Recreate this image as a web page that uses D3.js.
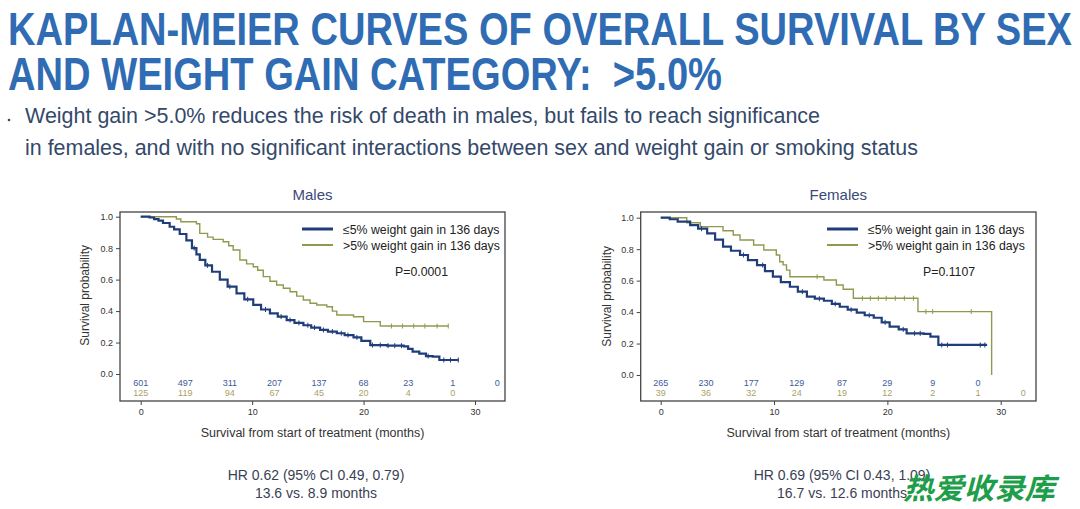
<!DOCTYPE html>
<html><head><meta charset="utf-8">
<script src="https://cdn.jsdelivr.net/npm/d3@7"></script>
<style>
html,body{margin:0;padding:0;background:#fff;}
svg{display:block;font-family:"Liberation Sans",Arial,sans-serif;}
</style></head>
<body><svg id="c" width="1080" height="509"></svg>
<script>
// ---------- data ----------
const riskTimes = [0,4,8,12,16,20,24,28,32];
const maleRiskLow = [601,497,311,207,137,68,23,1,0];
const maleRiskHigh = [125,119,94,67,45,20,4,0];
const femaleRiskLow = [265,230,177,129,87,29,9,0];
const femaleRiskHigh = [39,36,32,24,19,12,2,1,0];

const maleLow = [[0,1],[0.8,0.995],[1.2,0.985],[1.6,0.975],[2.0,0.96],[2.6,0.936],[3.0,0.92],[3.5,0.89],[4.1,0.85],[4.6,0.80],[5.0,0.76],[5.3,0.725],[5.8,0.69],[6.4,0.65],[7.1,0.60],[7.8,0.555],[8.6,0.513],[9.3,0.475],[10.1,0.44],[10.8,0.41],[11.6,0.386],[12.3,0.365],[13.1,0.343],[13.8,0.325],[14.6,0.31],[15.3,0.295],[16.1,0.28],[16.8,0.27],[17.6,0.259],[18.3,0.247],[19.1,0.233],[19.8,0.21],[20.6,0.184],[22.1,0.18],[23.6,0.176],[24.0,0.16],[24.4,0.142],[25.0,0.13],[25.6,0.114],[26.2,0.11],[26.8,0.089],[28.5,0.089]];
const maleHigh = [[0,1],[3.2,0.985],[3.6,0.968],[5.0,0.955],[5.3,0.894],[6.0,0.87],[6.5,0.856],[7.4,0.841],[7.9,0.815],[8.3,0.788],[8.9,0.725],[9.5,0.70],[10.1,0.682],[10.5,0.66],[11.0,0.619],[11.6,0.59],[12.2,0.566],[12.8,0.545],[13.4,0.523],[14.0,0.495],[14.6,0.47],[15.2,0.45],[15.8,0.439],[16.7,0.428],[17.2,0.40],[17.6,0.375],[19.1,0.364],[20.0,0.333],[21.5,0.305],[27.6,0.305]];
const femaleLow = [[0,1],[0.8,0.99],[1.5,0.975],[2.6,0.953],[3.3,0.93],[4.1,0.90],[4.8,0.86],[5.5,0.816],[6.2,0.79],[7.0,0.763],[7.7,0.73],[8.5,0.699],[9.2,0.66],[9.9,0.625],[10.6,0.59],[11.4,0.561],[12.1,0.53],[12.9,0.498],[13.6,0.485],[14.4,0.472],[15.1,0.452],[15.8,0.434],[16.5,0.415],[17.3,0.396],[18.0,0.38],[18.8,0.364],[19.5,0.335],[20.2,0.307],[21.0,0.29],[21.7,0.265],[23.2,0.261],[23.8,0.244],[24.5,0.191],[28.8,0.191]];
const femaleHigh = [[0,1],[2.3,0.968],[3.5,0.943],[5.5,0.917],[6.4,0.89],[7.0,0.858],[8.2,0.826],[9.1,0.795],[10.2,0.763],[10.5,0.72],[10.8,0.70],[11.1,0.667],[11.4,0.625],[14.4,0.604],[15.5,0.572],[16.1,0.545],[17.0,0.488],[22.7,0.403],[29.2,0.403],[29.2,0]];

const maleLowCens = [4.8,6.0,8.0,9.6,11.2,12.6,13.4,14.2,15.0,15.6,16.4,17.2,18.0,18.6,19.4,20.8,21.5,22.2,22.8,23.4,25.8,27.2,27.8,28.5];
const maleHighCens = [22.5,23.5,24.5,25.5,26.6,27.6];
const femaleLowCens = [3.6,7.3,9.0,12.5,14.0,15.4,16.8,18.4,19.8,21.4,22.4,22.9,24.8,25.3,28.2,28.6];
const femaleHighCens = [13.8,17.8,18.5,19.2,19.9,20.7,21.5,22.3,23.4,24.0,27.4];

const xTicks = [0,10,20,30];
const yTicks = [0,0.2,0.4,0.6,0.8,1.0];
const legendLabels = ["\u22645% weight gain in 136 days", ">5% weight gain in 136 days"];

// ---------- drawing ----------
const svg = d3.select("#c");
const TITLE = "#2f6cb3", SUB = "#34496a";
const BLUE = "#1f3d78", GREEN = "#8f9a4e";
const BLUE_T = "#3d5a99", GREEN_T = "#a8a265";

svg.append("text").attr("x",8).attr("y",45).attr("font-size",46).attr("font-weight","bold")
  .attr("font-family","'Liberation Sans Narrow','Liberation Sans',Arial,sans-serif").attr("fill",TITLE)
  .attr("textLength",1064).attr("lengthAdjust","spacingAndGlyphs")
  .text("KAPLAN-MEIER CURVES OF OVERALL SURVIVAL BY SEX");
svg.append("text").attr("x",8).attr("y",90).attr("font-size",46).attr("font-weight","bold")
  .attr("font-family","'Liberation Sans Narrow','Liberation Sans',Arial,sans-serif").attr("fill",TITLE)
  .attr("textLength",714).attr("lengthAdjust","spacingAndGlyphs")
  .attr("xml:space","preserve").style("white-space","pre")
  .text("AND WEIGHT GAIN CATEGORY:  >5.0%");

svg.append("circle").attr("cx",9).attr("cy",120).attr("r",1.3).attr("fill",SUB);
svg.append("text").attr("x",25).attr("y",123).attr("font-size",22).attr("fill",SUB)
  .attr("font-family","'Liberation Sans Narrow','Liberation Sans',Arial,sans-serif")
  .attr("textLength",795).attr("lengthAdjust","spacingAndGlyphs")
  .text("Weight gain >5.0% reduces the risk of death in males, but fails to reach significance");
svg.append("text").attr("x",25).attr("y",155).attr("font-size",22).attr("fill",SUB)
  .attr("font-family","'Liberation Sans Narrow','Liberation Sans',Arial,sans-serif")
  .attr("textLength",893).attr("lengthAdjust","spacingAndGlyphs")
  .text("in females, and with no significant interactions between sex and weight gain or smoking status");

function panel(cfg){
  const g = svg.append("g");
  const x = d3.scaleLinear().domain([0,30]).range([cfg.x0, cfg.x30]);
  const y = d3.scaleLinear().domain([0,1]).range([cfg.y0, cfg.y1]);
  const L = cfg.box[0], T = cfg.box[1], R = cfg.box[2], B = cfg.box[3];

  g.append("text").attr("x",(L+R)/2).attr("y",200).attr("text-anchor","middle")
    .attr("font-size",15).attr("fill","#3a4a78").text(cfg.title);

  const ya = g.append("g").attr("transform",`translate(${L},0)`)
    .call(d3.axisLeft(y).tickValues(yTicks).tickFormat(d3.format(".1f")).tickSize(4).tickPadding(3));
  ya.select(".domain").remove();
  ya.selectAll("line").attr("stroke","#444");
  ya.selectAll("text").attr("font-size",9).attr("fill","#333").attr("font-family","'Liberation Sans',Arial,sans-serif");

  const xa = g.append("g").attr("transform",`translate(0,${B})`)
    .call(d3.axisBottom(x).tickValues(xTicks).tickSize(4).tickPadding(4));
  xa.select(".domain").remove();
  xa.selectAll("line").attr("stroke","#444");
  xa.selectAll("text").attr("font-size",9).attr("fill","#333").attr("font-family","'Liberation Sans',Arial,sans-serif");

  g.append("rect").attr("x",L).attr("y",T).attr("width",R-L).attr("height",B-T)
    .attr("fill","none").attr("stroke","#444").attr("stroke-width",1.3);

  g.append("text").attr("transform",`translate(${cfg.ylabX},${(cfg.y0+cfg.y1)/2}) rotate(-90)`)
    .attr("text-anchor","middle").attr("font-size",12).attr("fill","#333").text("Survival probability");
  g.append("text").attr("x",(L+R)/2).attr("y",437).attr("text-anchor","middle")
    .attr("font-size",12.5).attr("fill","#333").text("Survival from start of treatment (months)");

  const line = d3.line().x(d=>x(d[0])).y(d=>y(d[1])).curve(d3.curveStepAfter);
  const series = [
    {d:cfg.high, c:GREEN, w:1.4, cens:cfg.highCens},
    {d:cfg.low, c:BLUE, w:2.2, cens:cfg.lowCens}
  ];
  series.forEach(s=>{
    g.append("path").datum(s.d).attr("d",line).attr("fill","none").attr("stroke",s.c).attr("stroke-width",s.w);
    const val = t => { let v=1; s.d.forEach(p=>{ if(p[0]<=t) v=p[1]; }); return v; };
    g.selectAll(null).data(s.cens).enter().append("line")
      .attr("x1",d=>x(d)).attr("x2",d=>x(d))
      .attr("y1",d=>y(val(d))-2.5).attr("y2",d=>y(val(d))+2.5)
      .attr("stroke",s.c).attr("stroke-width",1);
  });

  // legend
  const lx = cfg.legX;
  [[BLUE,3,229],[GREEN,2,245]].forEach((l,i)=>{
    g.append("line").attr("x1",lx).attr("x2",lx+31).attr("y1",l[2]).attr("y2",l[2]).attr("stroke",l[0]).attr("stroke-width",l[1]);
    g.append("text").attr("x",lx+41).attr("y",l[2]+4.5).attr("font-size",12.3).attr("fill","#222").text(legendLabels[i]);
  });
  g.append("text").attr("x",cfg.pX).attr("y",276).attr("font-size",12.3).attr("fill","#222").text(cfg.p);

  // numbers at risk
  g.selectAll(null).data(cfg.riskLow).enter().append("text")
    .attr("x",(d,i)=>x(riskTimes[i])).attr("y",386).attr("text-anchor","middle")
    .attr("font-size",9).attr("fill",BLUE_T).text(d=>d);
  g.selectAll(null).data(cfg.riskHigh).enter().append("text")
    .attr("x",(d,i)=>x(riskTimes[i])).attr("y",396).attr("text-anchor","middle")
    .attr("font-size",9).attr("fill",GREEN_T).text(d=>d);

  g.append("text").attr("x",cfg.footX).attr("y",480).attr("text-anchor","middle")
    .attr("font-size",14).attr("fill","#3a3f55").text(cfg.hr);
  g.append("text").attr("x",cfg.footX).attr("y",498).attr("text-anchor","middle")
    .attr("font-size",14).attr("fill","#3a3f55").text(cfg.med);
}

panel({title:"Males", x0:140.7, x30:475, y0:374, y1:216.7, box:[120,212,505,401], ylabX:89,
  low:maleLow, high:maleHigh, lowCens:maleLowCens, highCens:maleHighCens,
  riskLow:maleRiskLow, riskHigh:maleRiskHigh, legX:302, pX:395, p:"P=0.0001",
  footX:316, hr:"HR 0.62 (95% CI 0.49, 0.79)", med:"13.6 vs. 8.9 months"});
panel({title:"Females", x0:660.7, x30:1000.7, y0:375, y1:217.7, box:[640.7,212,1036,401], ylabX:611,
  low:femaleLow, high:femaleHigh, lowCens:femaleLowCens, highCens:femaleHighCens,
  riskLow:femaleRiskLow, riskHigh:femaleRiskHigh, legX:827, pX:923, p:"P=0.1107",
  footX:842, hr:"HR 0.69 (95% CI 0.43, 1.09)", med:"16.7 vs. 12.6 months"});

svg.append("text").attr("x",903).attr("y",499).attr("font-size",29).attr("font-weight","bold")
  .attr("font-style","italic").attr("fill","#1e9e4a")
  .attr("font-family","'Noto Sans CJK SC',sans-serif")
  .attr("textLength",152).attr("lengthAdjust","spacingAndGlyphs").text("热爱收录库");
</script></body></html>
